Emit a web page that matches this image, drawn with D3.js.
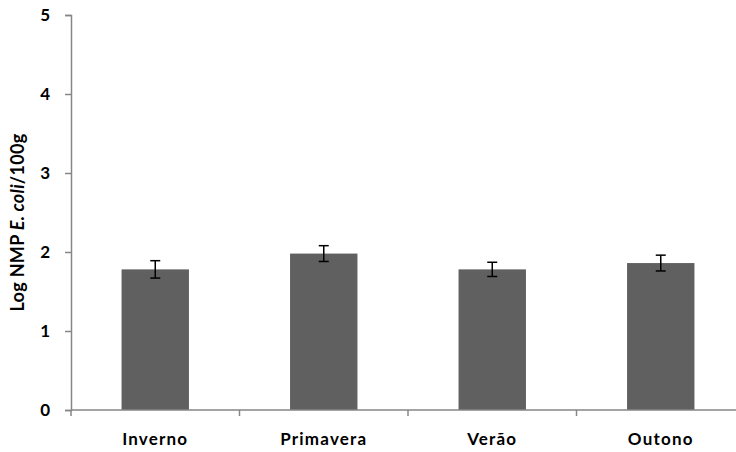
<!DOCTYPE html>
<html>
<head>
<meta charset="utf-8">
<script src="https://cdn.jsdelivr.net/npm/d3@7"></script>
<style>
  body { margin: 0; background: #fff; }
  text { font-family: Lato, "Open Sans", sans-serif; font-weight: bold; fill: #000; }
</style>
</head>
<body>
<svg id="chart" width="736" height="452"></svg>
<script>
// data
const seasons = ['Inverno', 'Primavera', 'Verão', 'Outono'];
const means = [1.78, 1.98, 1.78, 1.86];
const errors = [0.11, 0.10, 0.09, 0.10];
const yTicks = [0, 1, 2, 3, 4, 5];

const svg = d3.select('#chart');
const margin = { left: 71, top: 15, right: 0, bottom: 42 };
const plotW = 674, plotH = 395;

const g = svg.append('g').attr('transform', `translate(${margin.left},${margin.top})`);

const x = d3.scaleBand().domain(seasons).range([0, plotW]).paddingInner(0.6).paddingOuter(0.3);
const y = d3.scaleLinear().domain([0, 5]).range([plotH, 0]);

// bars
g.selectAll('rect.bar')
  .data(seasons)
  .enter().append('rect')
  .attr('class', 'bar')
  .attr('x', d => x(d))
  .attr('width', x.bandwidth())
  .attr('y', (d, i) => y(means[i]))
  .attr('height', (d, i) => plotH - y(means[i]))
  .attr('fill', '#606060');

// error bars
const eb = g.selectAll('g.err')
  .data(seasons)
  .enter().append('g')
  .attr('class', 'err')
  .attr('transform', d => `translate(${x(d) + x.bandwidth() / 2},0)`);

eb.append('line')
  .attr('y1', (d, i) => y(means[i] + errors[i]))
  .attr('y2', (d, i) => y(means[i] - errors[i]))
  .attr('stroke', '#000').attr('stroke-width', 1.5);
eb.append('line')
  .attr('x1', -5).attr('x2', 5)
  .attr('y1', (d, i) => y(means[i] + errors[i]))
  .attr('y2', (d, i) => y(means[i] + errors[i]))
  .attr('stroke', '#000').attr('stroke-width', 1.5);
eb.append('line')
  .attr('x1', -5).attr('x2', 5)
  .attr('y1', (d, i) => y(means[i] - errors[i]))
  .attr('y2', (d, i) => y(means[i] - errors[i]))
  .attr('stroke', '#000').attr('stroke-width', 1.5);

// y axis
const yAxis = g.append('g')
  .call(d3.axisLeft(y).tickValues(yTicks).tickSize(6).tickPadding(15).tickFormat(d3.format('d')));
yAxis.select('.domain').attr('stroke', '#868686').attr('stroke-width', 1.5);
yAxis.selectAll('.tick line').attr('stroke', '#868686').attr('stroke-width', 1.5);
yAxis.selectAll('.tick text').style('font-size', '17px').style('font-family', 'Lato, sans-serif');

// x axis: ticks at category boundaries
const xAxisG = g.append('g').attr('transform', `translate(0,${plotH})`);
xAxisG.append('line')
  .attr('x1', 0).attr('x2', plotW)
  .attr('stroke', '#868686').attr('stroke-width', 1.5);
const step = plotW / seasons.length;
xAxisG.selectAll('line.tk')
  .data(d3.range(seasons.length + 1))
  .enter().append('line')
  .attr('class', 'tk')
  .attr('x1', d => d * step).attr('x2', d => d * step)
  .attr('y1', 0).attr('y2', 6)
  .attr('stroke', '#868686').attr('stroke-width', 1.5);
xAxisG.selectAll('text')
  .data(seasons)
  .enter().append('text')
  .attr('x', d => x(d) + x.bandwidth() / 2)
  .attr('y', 35)
  .attr('text-anchor', 'middle')
  .style('font-size', '17px')
  .style('letter-spacing', '1.2px')
  .text(d => d);

// y label
const yl = svg.append('text')
  .attr('transform', `translate(24,${margin.top + plotH / 2 + 10}) rotate(-90)`)
  .attr('text-anchor', 'middle')
  .style('font-size', '18px')
  .style('letter-spacing', '0.3px');
yl.append('tspan').text('Log NMP ');
yl.append('tspan').style('font-style', 'italic').text('E. coli');
yl.append('tspan').text('/100g');
</script>
</body>
</html>
